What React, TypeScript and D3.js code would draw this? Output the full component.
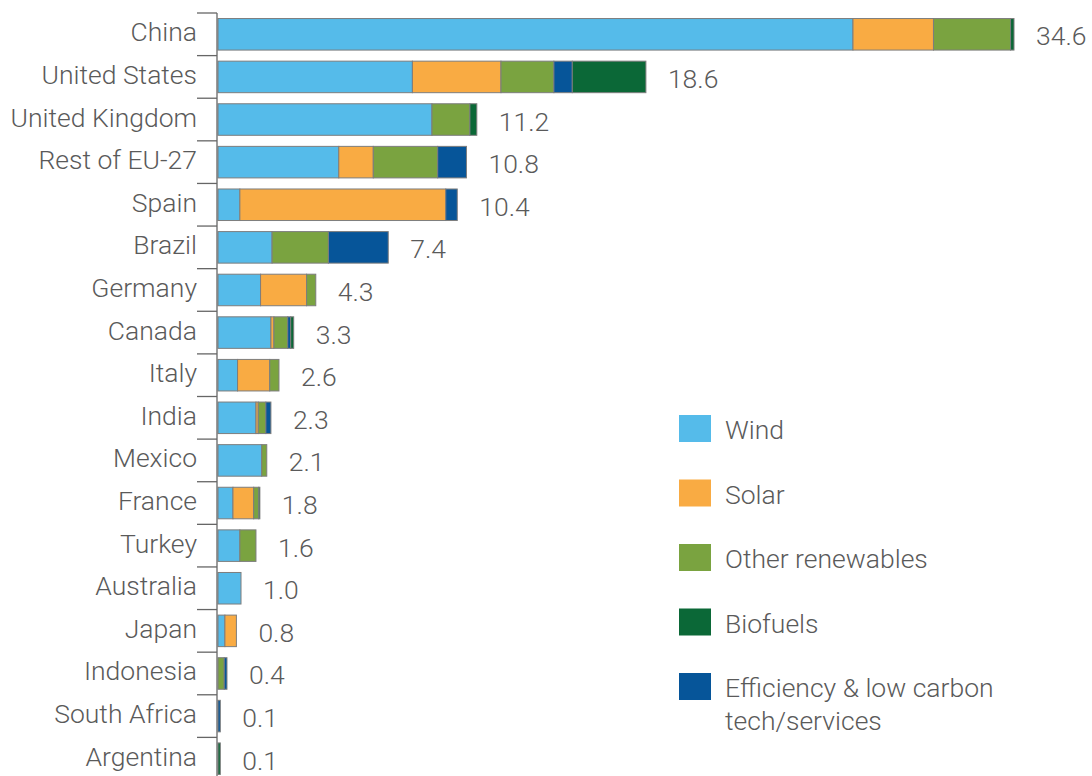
import React from "react";
import * as d3 from "d3";

const countries = ["China","United States","United Kingdom","Rest of EU-27","Spain","Brazil","Germany","Canada","Italy","India","Mexico","France","Turkey","Australia","Japan","Indonesia","South Africa","Argentina"];
const totalLabels = ["34.6","18.6","11.2","10.8","10.4","7.4","4.3","3.3","2.6","2.3","2.1","1.8","1.6","1.0","0.8","0.4","0.1","0.1"];

const wind =       [27.6, 8.45, 9.3, 5.25, 0.95, 2.35, 1.85, 2.3, 0.85, 1.65, 1.9, 0.65, 0.95, 1.0, 0.3, 0, 0, 0];
const solar =      [3.5, 3.85, 0, 1.5, 8.95, 0, 2.0, 0.13, 1.4, 0.1, 0, 0.9, 0, 0, 0.5, 0, 0, 0];
const other =      [3.35, 2.3, 1.65, 2.8, 0, 2.45, 0.4, 0.6, 0.4, 0.33, 0.22, 0.22, 0.7, 0, 0, 0.27, 0, 0];
const efficiency = [0, 0.8, 0, 1.25, 0.5, 2.6, 0, 0.13, 0, 0.22, 0, 0, 0, 0, 0, 0.12, 0.1, 0];
const biofuels =   [0.15, 3.2, 0.3, 0, 0, 0, 0, 0.13, 0, 0, 0, 0.05, 0, 0, 0, 0, 0, 0.1];

const seriesKeys = ["wind", "solar", "other", "efficiency", "biofuels"];
const seriesColors = ["#55bbea", "#f9ab43", "#7aa340", "#065599", "#0b6837"];

const legendLabels = [["Wind"], ["Solar"], ["Other renewables"], ["Biofuels"], ["Efficiency & low carbon", "tech/services"]];
const legendColors = ["#55bbea", "#f9ab43", "#7aa340", "#0b6837", "#065599"];

const FONT = "Roboto, 'Liberation Sans', Arial, sans-serif";
const TEXT = "#5a5a5a";
const WEIGHT = 300;

export default function App() {
  const rows = countries.map((c, i) => ({
    country: c,
    wind: wind[i],
    solar: solar[i],
    other: other[i],
    efficiency: efficiency[i],
    biofuels: biofuels[i],
  }));
  const stacked = d3.stack<any>().keys(seriesKeys)(rows);

  const x = d3.scaleLinear().domain([0, 34.6]).range([218, 1014]);
  const y = d3.scaleBand<string>().domain(countries).range([13, 780]).paddingInner(0.26).paddingOuter(0.13);
  const step = y.step();
  const axisX = 217;

  const totals = rows.map((r) => r.wind + r.solar + r.other + r.efficiency + r.biofuels);

  return (
    <svg width={1092} height={776} style={{ position: "absolute", left: 0, top: 0, background: "#fff" }}>
      {stacked.map((s, si) => (
        <g key={s.key} fill={seriesColors[si]}>
          {s.map((d, i) => {
            const w = x(d[1]) - x(d[0]);
            if (w <= 0) return null;
            return (
              <rect
                key={i}
                x={x(d[0])}
                y={y(countries[i])}
                width={w}
                height={y.bandwidth()}
                stroke="#7d7d7d"
                strokeWidth={1}
              />
            );
          })}
        </g>
      ))}
      <line x1={axisX} x2={axisX} y1={13} y2={776} stroke="#666" strokeWidth={1.3} />
      {countries.map((c, i) => {
        const ty = 13 + i * step;
        return <line key={"t" + i} x1={197} x2={axisX} y1={ty} y2={ty} stroke="#666" strokeWidth={1.3} />;
      })}
      {countries.map((c) => (
        <text
          key={"l" + c}
          x={197}
          y={(y(c) as number) + y.bandwidth() / 2 + 7}
          textAnchor="end"
          fontFamily={FONT}
          fontWeight={WEIGHT}
          fontSize={26.5}
          fill={TEXT}
        >
          {c}
        </text>
      ))}
      {countries.map((c, i) => (
        <text
          key={"v" + c}
          x={x(totals[i]) + 22}
          y={(y(c) as number) + y.bandwidth() / 2 + 11}
          fontFamily={FONT}
          fontWeight={WEIGHT}
          fontSize={26.5}
          fill={TEXT}
        >
          {totalLabels[i]}
        </text>
      ))}
      {legendLabels.map((lines, i) => {
        const ly = 415 + i * 64.5;
        return (
          <g key={"lg" + i}>
            <rect x={679} y={ly} width={32} height={27} fill={legendColors[i]} />
            {lines.map((t, j) => (
              <text key={j} x={725} y={ly + 24 + j * 33} fontFamily={FONT} fontWeight={WEIGHT} fontSize={26.5} fill={TEXT}>
                {t}
              </text>
            ))}
          </g>
        );
      })}
    </svg>
  );
}
